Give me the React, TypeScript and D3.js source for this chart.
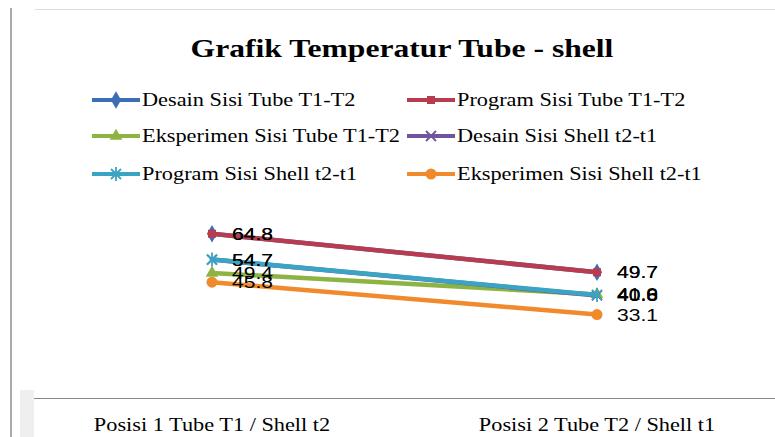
import React, { useEffect, useRef } from "react";
import * as d3 from "d3";

const categories: string[] = ["Posisi 1 Tube T1 / Shell t2", "Posisi 2 Tube T2 / Shell t1"];

const seriesNames: string[] = [
  "Desain Sisi Tube T1-T2",
  "Program Sisi Tube T1-T2",
  "Eksperimen Sisi Tube T1-T2",
  "Desain Sisi Shell t2-t1",
  "Program Sisi Shell t2-t1",
  "Eksperimen Sisi Shell t2-t1",
];

const desainTube: number[] = [64.8, 49.7];
const programTube: number[] = [64.8, 49.7];
const eksperimenTube: number[] = [49.4, 41.0];
const desainShell: number[] = [54.7, 40.6];
const programShell: number[] = [54.7, 40.8];
const eksperimenShell: number[] = [45.8, 33.1];

const colors: string[] = ["#3b6eb4", "#b83c4e", "#8db443", "#6f55a0", "#3aa4c2", "#f08a2c"];
const markers: string[] = ["diamond", "square", "triangle", "x", "star", "circle"];

const W = 775;
const H = 437;
// the source picture is stretched sideways, so texts are widened
const STRETCH = 1.24;
const SERIF = "Liberation Serif, Times New Roman, serif";
const SANS = "Liberation Sans, Arial, sans-serif";

type G = d3.Selection<any, unknown, null, undefined>;

const drawMarker = (g: G, type: string, x: number, y: number, color: string) => {
  if (type === "diamond") {
    g.append("path")
      .attr("d", d3.symbol().type(d3.symbolDiamond).size(90)())
      .attr("transform", `translate(${x},${y})`)
      .attr("fill", color);
  } else if (type === "square") {
    g.append("path")
      .attr("d", d3.symbol().type(d3.symbolSquare).size(64)())
      .attr("transform", `translate(${x},${y})`)
      .attr("fill", color);
  } else if (type === "triangle") {
    g.append("path")
      .attr("d", d3.symbol().type(d3.symbolTriangle).size(70)())
      .attr("transform", `translate(${x},${y})`)
      .attr("fill", color);
  } else if (type === "circle") {
    g.append("circle").attr("cx", x).attr("cy", y).attr("r", 5.5).attr("fill", color);
  } else if (type === "x") {
    g.append("path")
      .attr("d", `M${x - 5},${y - 5}L${x + 5},${y + 5}M${x - 5},${y + 5}L${x + 5},${y - 5}`)
      .attr("stroke", color)
      .attr("stroke-width", 1.8)
      .attr("fill", "none");
  } else if (type === "star") {
    g.append("path")
      .attr(
        "d",
        `M${x - 5},${y - 5}L${x + 5},${y + 5}M${x - 5},${y + 5}L${x + 5},${y - 5}M${x},${y - 7}L${x},${y + 7}`
      )
      .attr("stroke", color)
      .attr("stroke-width", 1.8)
      .attr("fill", "none");
  }
};

const addText = (
  g: G,
  x: number,
  y: number,
  txt: string,
  size: number,
  family: string,
  anchor = "start",
  weight = "normal"
) => {
  g.append("text")
    .attr("transform", `translate(${x},${y}) scale(${STRETCH},1)`)
    .attr("text-anchor", anchor)
    .attr("font-family", family)
    .attr("font-size", size)
    .attr("font-weight", weight)
    .attr("fill", "#000")
    .text(txt);
};

const App: React.FC = () => {
  const svgRef = useRef<SVGSVGElement>(null);

  useEffect(() => {
    if (!svgRef.current) return;
    const allSeries = [desainTube, programTube, eksperimenTube, desainShell, programShell, eksperimenShell];
    const svg = d3.select(svgRef.current) as G;
    svg.selectAll("*").remove();

    svg.append("rect").attr("width", W).attr("height", H).attr("fill", "#ffffff");

    // chart frame (cropped)
    svg.append("line").attr("x1", 11).attr("x2", 11).attr("y1", 8).attr("y2", H)
      .attr("stroke", "#a9a9a9").attr("stroke-width", 2);
    svg.append("line").attr("x1", 35).attr("x2", W).attr("y1", 9.5).attr("y2", 9.5)
      .attr("stroke", "#dcdcdc").attr("stroke-width", 1);

    addText(svg, 402, 57, "Grafik Temperatur Tube - shell", 25.5, SERIF, "middle", "bold");

    // legend
    const legendX = [92, 407];
    const legendY = [100, 136, 174];
    seriesNames.forEach((name, i) => {
      const lx = legendX[i % 2];
      const ly = legendY[Math.floor(i / 2)];
      const lg = svg.append("g") as G;
      lg.append("line")
        .attr("x1", lx).attr("x2", lx + 48).attr("y1", ly).attr("y2", ly)
        .attr("stroke", colors[i]).attr("stroke-width", 4);
      drawMarker(lg, markers[i], lx + 24, ly, colors[i]);
      addText(lg, lx + 50, ly + 6, name, 18, SERIF);
    });

    const x = d3.scalePoint<string>().domain(categories).range([212, 597]);
    const y = d3.scaleLinear().domain([0, 80]).range([399, 195]);

    // category axis
    svg.append("line").attr("x1", 20).attr("x2", W).attr("y1", 398.5).attr("y2", 398.5)
      .attr("stroke", "#868686").attr("stroke-width", 1.2);
    svg.append("rect").attr("x", 20).attr("y", 390).attr("width", 14).attr("height", 47)
      .attr("fill", "#efefef");
    categories.forEach((c) => {
      addText(svg, x(c) as number, 431, c, 18, SERIF, "middle");
    });

    const line = d3
      .line<number>()
      .x((_, i) => x(categories[i]) as number)
      .y((d) => y(d));

    allSeries.forEach((vals, si) => {
      const g = svg.append("g") as G;
      g.append("path")
        .attr("d", line(vals))
        .attr("fill", "none")
        .attr("stroke", colors[si])
        .attr("stroke-width", 4.5)
        .attr("stroke-linecap", "round");
      vals.forEach((v, i) => {
        drawMarker(g, markers[si], x(categories[i]) as number, y(v), colors[si]);
      });
    });

    allSeries.forEach((vals) => {
      vals.forEach((v, i) => {
        addText(svg, (x(categories[i]) as number) + 20, y(v) + 6, v.toFixed(1), 17, SANS);
      });
    });
  }, []);

  return (
    <svg
      ref={svgRef}
      width={W}
      height={H}
      style={{ position: "absolute", left: 0, top: 0, display: "block" }}
    />
  );
};

export default App;
